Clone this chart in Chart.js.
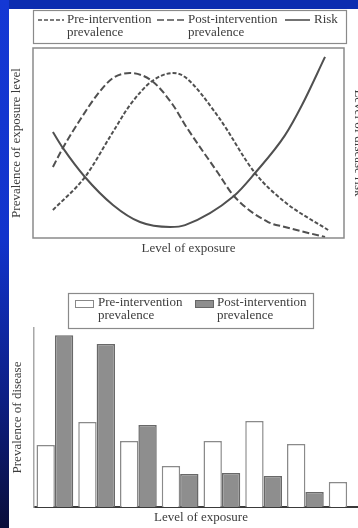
<!DOCTYPE html>
<html>
<head>
<meta charset="utf-8">
<script src="https://cdn.jsdelivr.net/npm/chart.js@4"></script>
<style>
  html, body { margin:0; padding:0; width:358px; height:528px; overflow:hidden; background:#ffffff; }
  #topband { position:absolute; left:0; top:0; width:358px; height:9px; background:#0c2db0; }
  #leftstrip { position:absolute; left:0; top:0; width:9px; height:528px;
    background:linear-gradient(to bottom, #1438d4 0%, #1234cc 45%, #0d1f85 75%, #0a0e3a 100%); }
  #c1wrap { position:absolute; left:0; top:0; width:366px; height:262px; }
  #c2wrap { position:absolute; left:0; top:285px; width:368px; height:243px; }
</style>
</head>
<body>
<div id="topband"></div>
<div id="leftstrip"></div>
<div id="c1wrap"><canvas id="c1" width="366" height="262"></canvas></div>
<div id="c2wrap"><canvas id="c2" width="368" height="243"></canvas></div>
<script>
// ---------- Top chart data (exposure level 0-100, prevalence / risk 0-100) ----------
const preX   = [6.4, 16.7, 25.7, 31.2, 38.3, 45.0, 48.9, 59.5, 71.4, 81.0, 94.9];
const preY   = [14.7, 32.1, 55.8, 70.0, 82.6, 86.8, 84.7, 64.0, 34.2, 18.9, 4.2];
const postX  = [6.4, 9.6, 15.1, 20.6, 25.7, 31.2, 38.3, 45.0, 48.9, 59.5, 64.6, 75.6, 81.0, 93.9];
const postY  = [37.4, 47.4, 62.1, 75.3, 84.2, 86.8, 82.6, 70.0, 59.5, 34.2, 22.1, 8.4, 5.8, 0.5];
const riskX  = [6.4, 9.6, 16.7, 25.7, 34.4, 44.1, 48.9, 64.6, 71.4, 81.0, 86.5, 93.9];
const riskY  = [55.8, 47.4, 32.1, 17.4, 8.4, 5.8, 6.8, 22.1, 34.2, 54.0, 70.0, 95.3];

// ---------- Bottom chart data ----------
const exposureLevels = ['1', '2', '3', '4', '5', '6', '7', '8'];
const preBar  = [3.46, 4.75, 3.69, 2.29, 3.69, 4.80, 3.52, 1.40];
const postBar = [9.60, 9.10, 4.58, 1.84, 1.90, 1.73, 0.84, null];

const SERIF = "'Liberation Serif', 'DejaVu Serif', serif";
const TXT = '#3c3c3c';
const LINE = '#505050';
Chart.defaults.font.family = SERIF;
Chart.defaults.color = TXT;

const pts = (xs, ys) => xs.map((x, i) => ({ x: x, y: ys[i] }));

// Frame around plot area (top chart)
const frame = {
  id: 'frame',
  afterDraw(chart) {
    const { ctx, chartArea: a } = chart;
    ctx.save();
    ctx.strokeStyle = '#8a8a8a';
    ctx.lineWidth = 1.5;
    ctx.strokeRect(a.left, a.top, a.right - a.left, a.bottom - a.top);
    ctx.restore();
  }
};

// Legend for top chart
const legendTop = {
  id: 'legendTop',
  afterDraw(chart) {
    const ctx = chart.ctx;
    ctx.save();
    ctx.strokeStyle = '#8a8a8a';
    ctx.lineWidth = 1.2;
    ctx.strokeRect(33.5, 10.5, 313, 33);
    ctx.font = '13px ' + SERIF;
    ctx.fillStyle = TXT;
    ctx.textBaseline = 'middle';
    ctx.strokeStyle = LINE;
    ctx.lineWidth = 1.6;
    const items = [
      { x0: 38, x1: 64, tx: 67, dash: [4, 2], lines: ['Pre-intervention', 'prevalence'] },
      { x0: 157, x1: 186, tx: 188, dash: [7, 3], lines: ['Post-intervention', 'prevalence'] },
      { x0: 285, x1: 310, tx: 314, dash: [], lines: ['Risk'] }
    ];
    items.forEach(it => {
      ctx.setLineDash(it.dash);
      ctx.beginPath();
      ctx.moveTo(it.x0, 20);
      ctx.lineTo(it.x1, 20);
      ctx.stroke();
      it.lines.forEach((t, i) => ctx.fillText(t, it.tx, 20 + i * 13));
    });
    ctx.restore();
  }
};

new Chart(document.getElementById('c1'), {
  type: 'line',
  data: {
    datasets: [
      { label: 'Pre-intervention prevalence', data: pts(preX, preY), yAxisID: 'y',
        borderColor: LINE, borderWidth: 2, borderDash: [4, 2], pointRadius: 0,
        cubicInterpolationMode: 'monotone', fill: false },
      { label: 'Post-intervention prevalence', data: pts(postX, postY), yAxisID: 'y',
        borderColor: LINE, borderWidth: 2, borderDash: [7, 3], pointRadius: 0,
        cubicInterpolationMode: 'monotone', fill: false },
      { label: 'Risk', data: pts(riskX, riskY), yAxisID: 'y1',
        borderColor: LINE, borderWidth: 2, pointRadius: 0,
        cubicInterpolationMode: 'monotone', fill: false }
    ]
  },
  options: {
    responsive: false,
    animation: false,
    layout: { padding: { top: 48, left: 0, right: 0, bottom: 0 } },
    plugins: { legend: { display: false }, tooltip: { enabled: false } },
    scales: {
      x: {
        type: 'linear', min: 0, max: 100,
        ticks: { display: false }, grid: { display: false, drawTicks: false }, border: { display: false },
        title: { display: true, text: 'Level of exposure', font: { size: 13 }, padding: { top: 0, bottom: 6 } },
        afterFit(s) { s.height = 24; }
      },
      y: {
        position: 'left', min: 0, max: 100,
        ticks: { display: false }, grid: { display: false, drawTicks: false }, border: { display: false },
        title: { display: true, text: 'Prevalence of exposure level', font: { size: 13 }, padding: { top: 9, bottom: 0 } },
        afterFit(s) { s.width = 33; }
      },
      y1: {
        position: 'right', min: 0, max: 100,
        ticks: { display: false }, grid: { display: false, drawTicks: false }, border: { display: false },
        title: { display: true, text: 'Level of disease risk', font: { size: 13 }, padding: { top: 0, bottom: 0 } },
        afterFit(s) { s.width = 22; }
      }
    }
  },
  plugins: [frame, legendTop]
});

// Legend for bottom chart
const legendBottom = {
  id: 'legendBottom',
  afterDraw(chart) {
    const ctx = chart.ctx;
    ctx.save();
    ctx.strokeStyle = '#8a8a8a';
    ctx.lineWidth = 1.2;
    ctx.strokeRect(68.5, 8.5, 245, 35);
    ctx.font = '13px ' + SERIF;
    ctx.textBaseline = 'middle';
    ctx.lineWidth = 1;
    ctx.fillStyle = '#ffffff';
    ctx.strokeStyle = '#888888';
    ctx.fillRect(75, 15, 18, 7);
    ctx.strokeRect(75.5, 15.5, 18, 7);
    ctx.fillStyle = '#8e8e8e';
    ctx.strokeStyle = '#666666';
    ctx.fillRect(195, 15, 18, 7);
    ctx.strokeRect(195.5, 15.5, 18, 7);
    ctx.fillStyle = TXT;
    ctx.fillText('Pre-intervention', 98, 18);
    ctx.fillText('prevalence', 98, 31);
    ctx.fillText('Post-intervention', 217, 18);
    ctx.fillText('prevalence', 217, 31);
    ctx.restore();
  }
};

new Chart(document.getElementById('c2'), {
  type: 'bar',
  data: {
    labels: exposureLevels,
    datasets: [
      { label: 'Pre-intervention prevalence', data: preBar,
        backgroundColor: '#ffffff', borderColor: '#8a8a8a', borderWidth: 1.5, borderSkipped: 'bottom',
        categoryPercentage: 0.88, barPercentage: 1.0 },
      { label: 'Post-intervention prevalence', data: postBar,
        backgroundColor: '#8e8e8e', borderColor: '#686868', borderWidth: 1.5, borderSkipped: 'bottom',
        categoryPercentage: 0.88, barPercentage: 1.0 }
    ]
  },
  options: {
    responsive: false,
    animation: false,
    layout: { padding: { top: 43, left: 0, right: 0, bottom: 0 } },
    plugins: { legend: { display: false }, tooltip: { enabled: false } },
    scales: {
      x: {
        ticks: { display: false }, grid: { display: false, drawTicks: false },
        border: { display: true, color: '#3a3a3a', width: 2 },
        title: { display: true, text: 'Level of exposure', font: { size: 13 }, padding: { top: 0, bottom: 3 } },
        afterFit(s) { s.height = 21; }
      },
      y: {
        min: 0, max: 10,
        ticks: { display: false }, grid: { display: false, drawTicks: false },
        border: { display: true, color: '#a8a8a8', width: 1.5 },
        title: { display: true, text: 'Prevalence of disease', font: { size: 13 }, padding: { top: 10, bottom: 0 } },
        afterFit(s) { s.width = 34; }
      }
    }
  },
  plugins: [legendBottom]
});
</script>
</body>
</html>
